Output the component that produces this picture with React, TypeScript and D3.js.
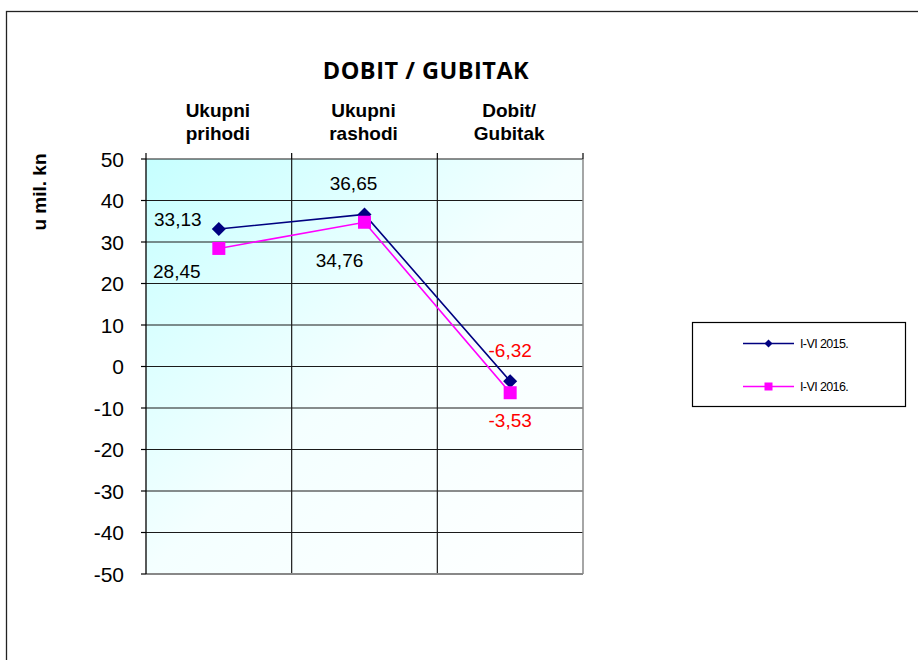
import React from "react";
import * as d3 from "d3";

const categories = ["Ukupni prihodi", "Ukupni rashodi", "Dobit/ Gubitak"];
const categoryLines = [["Ukupni", "prihodi"], ["Ukupni", "rashodi"], ["Dobit/", "Gubitak"]];
const seriesNames = ["I-VI 2015.", "I-VI 2016."];
const values2015 = [33.13, 36.65, -3.53];
const values2016 = [28.45, 34.76, -6.32];
const labels2015 = ["33,13", "36,65", "-6,32"];
const labels2016 = ["28,45", "34,76", "-3,53"];
const labelColors = ["#000000", "#000000", "#ff0000"];
const yTicks = [50, 40, 30, 20, 10, 0, -10, -20, -30, -40, -50];

// layout offsets for data labels (relative to point)
const off2015 = [[-41, -3], [-11, -24], [0, -24]];
const off2016 = [[-42, 30], [-25, 45], [0, 34]];

const W = 918, H = 660;
const PL = 146, PR = 583, PT = 159, PB = 574;
const FONT = "'Liberation Sans', Arial, sans-serif";

export default function App() {
  const x = d3.scaleBand<string>().domain(categories).range([PL, PR]).paddingInner(0).paddingOuter(0);
  const y = d3.scaleLinear().domain([-50, 50]).range([PB, PT]);
  const cx = (i: number) => (x(categories[i]) as number) + x.bandwidth() / 2;
  const line = d3.line<number>().x((_, i) => cx(i)).y((d) => y(d));
  const boundaries = [PL, ...categories.map((c) => (x(c) as number) + x.bandwidth())];

  const diamond = (px: number, py: number, r: number) =>
    `M${px},${py - r}L${px + r},${py}L${px},${py + r}L${px - r},${py}Z`;

  return (
    <svg width={W} height={H} style={{ position: "absolute", left: 0, top: 0, background: "#fff" }} fontFamily={FONT}>
      <defs>
        <linearGradient id="bg" x1="0" y1="0" x2="1" y2="1">
          <stop offset="0" stopColor="#c6ffff" />
          <stop offset="0.5" stopColor="#f4ffff" />
          <stop offset="1" stopColor="#ffffff" />
        </linearGradient>
      </defs>
      {/* outer frame */}
      <rect x={6.5} y={11.5} width={W + 20} height={H + 20} fill="none" stroke="#222" strokeWidth={1.3} />

      {/* title */}
      <text x={426} y={78.5} textAnchor="middle" fontFamily="'Open Sans', sans-serif" fontWeight="bold" fontSize={23.5} letterSpacing={0.5}>
        DOBIT / GUBITAK
      </text>

      {/* plot area */}
      <rect x={PL} y={PT} width={PR - PL} height={PB - PT} fill="url(#bg)" />
      {yTicks.filter((t) => t !== -50).map((t) => (
        <line key={"g" + t} x1={PL} x2={PR} y1={y(t)} y2={y(t)} stroke="#1a1a1a" strokeWidth={1.2} />
      ))}
      {boundaries.slice(1, 3).map((bx, i) => (
        <line key={"v" + i} x1={bx} x2={bx} y1={PT} y2={PB} stroke="#1a1a1a" strokeWidth={1.2} />
      ))}
      <line x1={PR} x2={PR} y1={PT} y2={PB} stroke="#888" strokeWidth={1.5} />
      <line x1={PL} x2={PR} y1={PB} y2={PB} stroke="#888" strokeWidth={1.8} />
      <line x1={PL} x2={PL} y1={PT} y2={PB} stroke="#000" strokeWidth={1.3} />

      {/* top category ticks */}
      {boundaries.map((bx, i) => (
        <line key={"t" + i} x1={bx} x2={bx} y1={PT - 6} y2={PT} stroke="#000" strokeWidth={1.2} />
      ))}
      {/* y ticks */}
      {yTicks.map((t) => (
        <g key={"y" + t}>
          <line x1={PL - 5} x2={PL} y1={y(t)} y2={y(t)} stroke="#000" strokeWidth={1.2} />
          <text x={124} y={y(t) + 7.5} textAnchor="end" fontSize={21}>
            {t}
          </text>
        </g>
      ))}

      {/* y axis title */}
      <text transform={`translate(46,192) rotate(-90)`} textAnchor="middle" fontWeight="bold" fontSize={19}>
        u mil. kn
      </text>

      {/* category labels */}
      {categoryLines.map((ls, i) => (
        <text key={"c" + i} x={cx(i)} textAnchor="middle" fontWeight="bold" fontSize={19}>
          <tspan x={cx(i) - 1} y={116.5}>{ls[0]}</tspan>
          <tspan x={cx(i) - 1} y={140}>{ls[1]}</tspan>
        </text>
      ))}

      {/* series lines */}
      <path d={line(values2015) || ""} fill="none" stroke="#000080" strokeWidth={1.6} />
      <path d={line(values2016) || ""} fill="none" stroke="#ff00ff" strokeWidth={1.6} />
      {values2015.map((v, i) => (
        <path key={"d" + i} d={diamond(cx(i), y(v), 7)} fill="#000080" />
      ))}
      {values2016.map((v, i) => (
        <rect key={"s" + i} x={cx(i) - 6.5} y={y(v) - 6.5} width={13} height={13} fill="#ff00ff" />
      ))}

      {/* data labels */}
      {values2015.map((v, i) => (
        <text key={"l15" + i} x={cx(i) + off2015[i][0]} y={y(v) + off2015[i][1]} textAnchor="middle" fontSize={19} fill={labelColors[i]}>
          {labels2015[i]}
        </text>
      ))}
      {values2016.map((v, i) => (
        <text key={"l16" + i} x={cx(i) + off2016[i][0]} y={y(v) + off2016[i][1]} textAnchor="middle" fontSize={19} fill={labelColors[i]}>
          {labels2016[i]}
        </text>
      ))}

      {/* legend */}
      <rect x={692.5} y={322.5} width={213} height={84} fill="#fff" stroke="#000" strokeWidth={1.2} />
      {seriesNames.map((n, i) => {
        const ly = i === 0 ? 343.5 : 386.5;
        const col = i === 0 ? "#000080" : "#ff00ff";
        return (
          <g key={"lg" + i}>
            <line x1={743} x2={794} y1={ly} y2={ly} stroke={col} strokeWidth={1.5} />
            {i === 0 ? (
              <path d={diamond(768.5, ly, 4)} fill={col} />
            ) : (
              <rect x={764.5} y={ly - 4} width={8} height={8} fill={col} />
            )}
            <text x={800} y={ly + 4.5} fontSize={12.5} letterSpacing={-0.6}>
              {n}
            </text>
          </g>
        );
      })}
    </svg>
  );
}
